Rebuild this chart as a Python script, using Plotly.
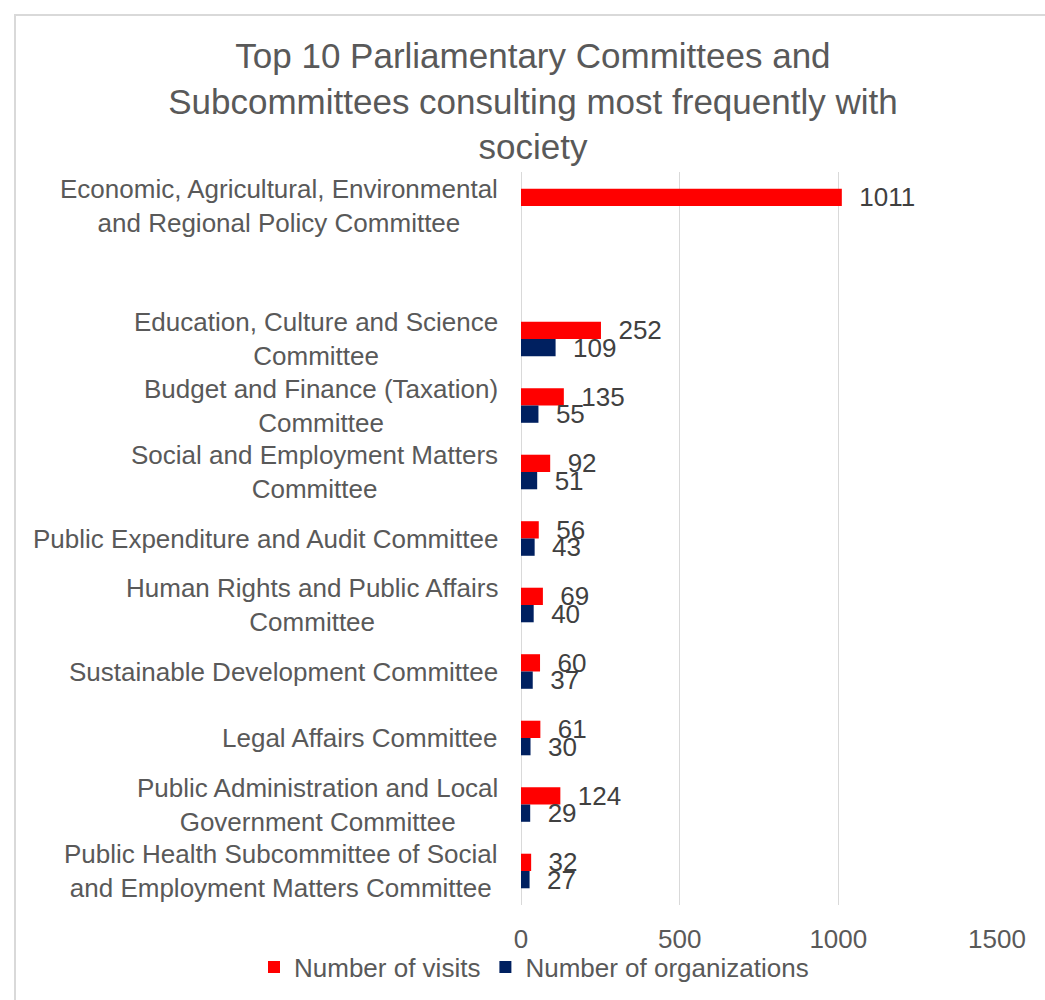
import plotly.graph_objects as go

# Committees, top to bottom; the blank entry leaves an empty row under the first one
committees = [
    "Economic, Agricultural, Environmental<br>and Regional Policy Committee",
    " ",
    "Education, Culture and Science<br>Committee",
    "Budget and Finance (Taxation)<br>Committee",
    "Social and Employment Matters<br>Committee",
    "Public Expenditure and Audit Committee",
    "Human Rights and Public Affairs<br>Committee",
    "Sustainable Development Committee",
    "Legal Affairs Committee",
    "Public Administration and Local<br>Government Committee",
    "Public Health Subcommittee of Social<br>and Employment Matters Committee",
]

visit_committees = [c for c in committees if c.strip()]
visits = [1011, 252, 135, 92, 56, 69, 60, 61, 124, 32]

org_committees = visit_committees[1:]
organizations = [109, 55, 51, 43, 40, 37, 30, 29, 27]

x_ticks = [0, 500, 1000, 1500]

FONT = "Liberation Sans, Arial, sans-serif"
GREY_TEXT = "#595959"
LABEL_TEXT = "#404040"
FS = 26

fig = go.Figure()
fig.add_trace(go.Bar(
    name="Number of visits", orientation="h",
    y=visit_committees, x=visits,
    marker=dict(color="#FF0000", line=dict(width=0)),
    text=visits, texttemplate="\u00a0\u00a0%{x}", textposition="outside",
    textfont=dict(size=FS, color=LABEL_TEXT, family=FONT),
    constraintext="none", cliponaxis=False,
))
fig.add_trace(go.Bar(
    name="Number of organizations", orientation="h",
    y=org_committees, x=organizations,
    marker=dict(color="#002060", line=dict(width=0)),
    text=organizations, texttemplate="\u00a0\u00a0%{x}", textposition="outside",
    textfont=dict(size=FS, color=LABEL_TEXT, family=FONT),
    constraintext="none", cliponaxis=False,
))

# Category labels: centred multi-line text to the left of the bars
annotations = []
for c in committees:
    if not c.strip():
        continue
    annotations.append(dict(
        text=c, xref="paper", yref="y", x=-0.044, y=c,
        xanchor="right", yanchor="middle", align="center", showarrow=False,
        font=dict(size=FS, color=GREY_TEXT, family=FONT),
    ))

L, R, T, B = 521, 48, 172, 95
W, H = 1045, 1000
pw, ph = W - L - R, H - T - B

fig.update_layout(
    width=W, height=H,
    margin=dict(l=L, r=R, t=T, b=B, autoexpand=False),
    paper_bgcolor="white", plot_bgcolor="white",
    barmode="group", bargap=0.48, bargroupgap=0,
    font=dict(family=FONT, color=GREY_TEXT),
    title=dict(
        text="Top 10 Parliamentary Committees and<br>Subcommittees consulting most frequently with<br>society",
        x=0.51, xref="container", xanchor="center",
        y=1 - 68 / H, yref="container", yanchor="middle",
        font=dict(size=35, color=GREY_TEXT, family=FONT),
    ),
    xaxis=dict(
        range=[0, 1500], tickvals=x_ticks, ticktext=[str(v) for v in x_ticks],
        showgrid=True, gridcolor="#D9D9D9", gridwidth=1,
        zeroline=True, zerolinecolor="#D9D9D9", zerolinewidth=1,
        showline=False, ticks="", ticklen=0, ticklabelstandoff=16,
        tickfont=dict(size=FS, color=GREY_TEXT, family=FONT),
        fixedrange=True,
    ),
    yaxis=dict(
        type="category", categoryorder="array", categoryarray=committees,
        autorange="reversed", showticklabels=False, ticks="",
        showgrid=False, showline=False, zeroline=False,
    ),
    legend=dict(
        orientation="h", xref="paper", x=(254 - L) / pw, xanchor="left",
        yref="paper", y=(H - B - 967) / ph, yanchor="middle",
        font=dict(size=FS, color=GREY_TEXT, family=FONT),
        bgcolor="rgba(0,0,0,0)",
        traceorder="normal", itemwidth=30,
    ),
    annotations=annotations,
    shapes=[dict(
        type="rect", xref="paper", yref="paper",
        x0=(15 - L) / pw, x1=(W + 10 - L) / pw,
        y0=(H - B - (H + 10)) / ph, y1=(H - B - 15) / ph,
        line=dict(color="#D9D9D9", width=2), fillcolor="rgba(0,0,0,0)",
        layer="below",
    )],
)

fig.write_html("out.html")
